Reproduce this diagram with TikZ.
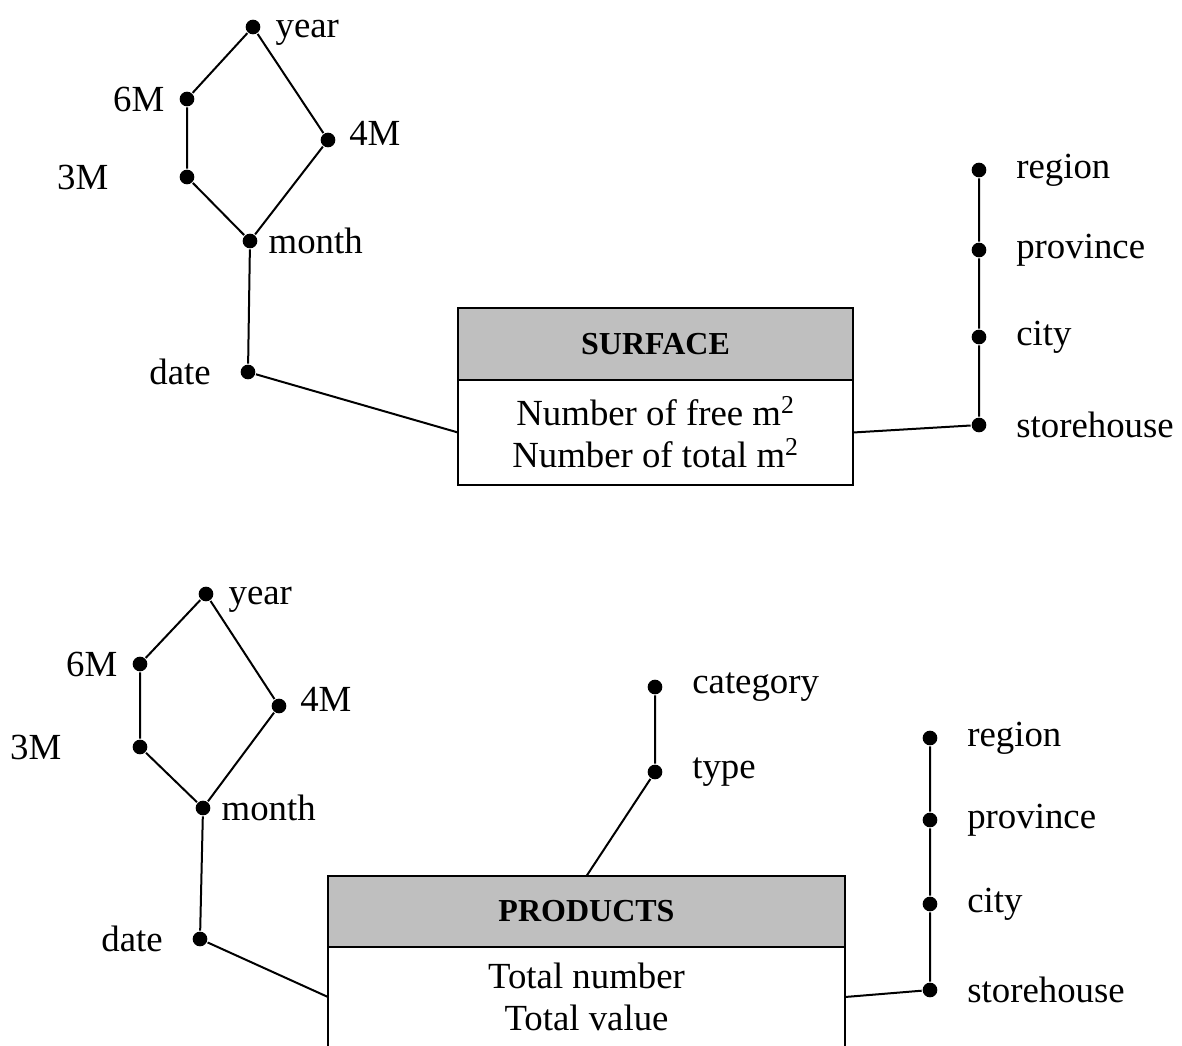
\documentclass[tikz,border=0pt]{standalone}
\usepackage{fontspec}
\setmainfont{Liberation Serif}
\usetikzlibrary{positioning}
\newcommand{\lblfont}{\fontsize{27.6}{31.5}\selectfont}
\newcommand{\headfont}{\fontsize{24}{28}\selectfont\bfseries}
\begin{document}
\begin{tikzpicture}[x=0.75pt,y=-0.75pt,line width=1.5pt,
  dot/.style={circle,fill,inner sep=0pt,minimum size=11pt},
  lbl/.style={font=\lblfont,inner sep=0pt},
  head/.style={draw,fill=black!25,font=\headfont,inner sep=0pt,outer sep=0pt},
  body/.style={draw,fill=white,font=\lblfont,align=center,inner sep=0pt,outer sep=0pt}]
   \useasboundingbox (0,0) rectangle (1182,1046);
   % surface: time hierarchy
   \node[dot, label={[lbl,label distance=10pt,yshift=-4pt]right:year}] (yearA) at (253,27) {};
   \node[dot, label={[lbl,label distance=10pt]left:6M}] (sixA) at (187,99) {};
   \node[dot, label={[lbl,label distance=9pt,yshift=5pt]right:4M}] (fourA) at (328,140) {};
   \node[dot, label={[lbl,label distance=52pt]left:3M}] (threeA) at (187,177) {};
   \node[dot, label={[lbl,label distance=7pt]right:month}] (monthA) at (250,241) {};
   \node[dot, label={[lbl,label distance=21pt]left:date}] (dateA) at (248,372) {};
   % surface: place hierarchy
   \node[dot, label={[lbl,label distance=21pt]right:region}] (regionA) at (979,170) {};
   \node[dot, label={[lbl,label distance=21pt]right:province}] (provA) at (979,250) {};
   \node[dot, label={[lbl,label distance=21pt]right:city}] (cityA) at (979,337) {};
   \node[dot, label={[lbl,label distance=21pt]right:storehouse}] (storeA) at (979,425) {};
   % surface: fact
   \node[head, minimum width=296.25pt, minimum height=54pt, anchor=north west] (surfhead) at (458,308) {SURFACE};
   \node[body, minimum width=296.25pt, minimum height=78.75pt, anchor=north] (surfbody) at (surfhead.south)
      {Number of free m\textsuperscript{2}\\Number of total m\textsuperscript{2}};
   \draw (yearA) -- (sixA) -- (threeA) -- (monthA) -- (fourA) -- (yearA);
   \draw (monthA) -- (dateA) -- (surfbody.west);
   \draw (regionA) -- (provA) -- (cityA) -- (storeA) -- (surfbody.east);
   % products: time hierarchy
   \node[dot, label={[lbl,label distance=10pt,yshift=-4pt]right:year}] (yearB) at (206,594) {};
   \node[dot, label={[lbl,label distance=10pt]left:6M}] (sixB) at (140,664) {};
   \node[dot, label={[lbl,label distance=9pt,yshift=5pt]right:4M}] (fourB) at (279,706) {};
   \node[dot, label={[lbl,label distance=52pt]left:3M}] (threeB) at (140,747) {};
   \node[dot, label={[lbl,label distance=7pt]right:month}] (monthB) at (203,808) {};
   \node[dot, label={[lbl,label distance=21pt]left:date}] (dateB) at (200,939) {};
   % products: product hierarchy
   \node[dot, label={[lbl,label distance=21pt]right:category}] (catB) at (655,687) {};
   \node[dot, label={[lbl,label distance=21pt]right:type}] (typeB) at (655,772) {};
   % products: place hierarchy
   \node[dot, label={[lbl,label distance=21pt]right:region}] (regionB) at (930,738) {};
   \node[dot, label={[lbl,label distance=21pt]right:province}] (provB) at (930,820) {};
   \node[dot, label={[lbl,label distance=21pt]right:city}] (cityB) at (930,904) {};
   \node[dot, label={[lbl,label distance=21pt]right:storehouse}] (storeB) at (930,990) {};
   % products: fact
   \node[head, minimum width=387.75pt, minimum height=53.25pt, anchor=north west] (prodhead) at (328,876) {PRODUCTS};
   \node[body, minimum width=387.75pt, minimum height=75pt, anchor=north] (prodbody) at (prodhead.south)
      {Total number\\Total value};
   \draw (yearB) -- (sixB) -- (threeB) -- (monthB) -- (fourB) -- (yearB);
   \draw (monthB) -- (dateB) -- (prodbody.west);
   \draw (catB) -- (typeB) -- (prodhead.north);
   \draw (regionB) -- (provB) -- (cityB) -- (storeB) -- (prodbody.east);
\end{tikzpicture}
\end{document}
